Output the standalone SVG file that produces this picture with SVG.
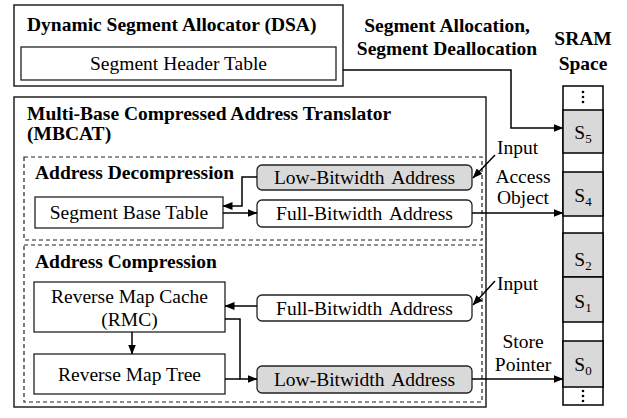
<svg xmlns="http://www.w3.org/2000/svg" width="627" height="418" viewBox="0 0 627 418">
<style>
text{font-family:"Liberation Serif","Times New Roman",serif;font-size:19.5px;fill:#000}
.b{font-weight:bold}
.m{text-anchor:middle}
.ws{word-spacing:3px}
.sub{font-size:13px}
.frame{fill:#fff;stroke:#222;stroke-width:1.5}
.box{fill:#fff;stroke:#222;stroke-width:1.3}
.dash{fill:none;stroke:#222;stroke-width:1.2;stroke-dasharray:4 3}
.gray{fill:#d9d9d9}
.wire{fill:none;stroke:#000;stroke-width:1.5}
.arr{marker-end:url(#ah)}
.cell{stroke:#000;stroke-width:1.5}
</style>
<defs>
<marker id="ah" markerWidth="10" markerHeight="8" refX="9.5" refY="4" orient="auto" markerUnits="userSpaceOnUse">
<path d="M0,0 L10,4 L0,8 z" fill="#000"/>
</marker>
</defs>
<rect width="627" height="418" fill="#fff"/>

<!-- Dynamic Segment Allocator -->
<g id="dsa">
<rect class="frame" x="14" y="5" width="329" height="81"/>
<text class="b" x="27" y="31">Dynamic Segment Allocator (DSA)</text>
</g>
<g id="segment-header-table">
<rect class="box" x="21" y="47" width="315" height="33"/>
<text class="m" x="178.5" y="70">Segment Header Table</text>
</g>

<!-- Multi-Base Compressed Address Translator -->
<g id="mbcat">
<rect class="frame" x="14" y="97" width="472" height="310"/>
<text class="b" x="27" y="120">Multi-Base Compressed Address Translator</text>
<text class="b" x="27" y="140">(MBCAT)</text>
</g>
<g id="address-decompression">
<rect class="dash" x="24" y="157" width="458" height="83"/>
<text class="b" x="35" y="179">Address Decompression</text>
</g>
<g id="address-compression">
<rect class="dash" x="24" y="245" width="458" height="157"/>
<text class="b" x="35" y="268">Address Compression</text>
</g>

<g id="segment-base-table">
<rect class="box" x="35" y="197" width="188" height="31"/>
<text class="m" x="129" y="219">Segment Base Table</text>
</g>
<g id="low-bitwidth-in">
<rect class="box gray" x="257" y="165" width="215" height="25" rx="5"/>
<text class="m ws" x="364.5" y="184">Low-Bitwidth Address</text>
</g>
<g id="full-bitwidth-out">
<rect class="box" x="257" y="200" width="215" height="27" rx="5"/>
<text class="m ws" x="364.5" y="220">Full-Bitwidth Address</text>
</g>

<g id="reverse-map-cache">
<rect class="box" x="34" y="282" width="191" height="50"/>
<text class="m" x="129.5" y="303">Reverse Map Cache</text>
<text class="m" x="129.5" y="326">(RMC)</text>
</g>
<g id="reverse-map-tree">
<rect class="box" x="34" y="354" width="191" height="40"/>
<text class="m" x="129.5" y="381">Reverse Map Tree</text>
</g>
<g id="full-bitwidth-in">
<rect class="box" x="257" y="295" width="215" height="26" rx="5"/>
<text class="m ws" x="364.5" y="315">Full-Bitwidth Address</text>
</g>
<g id="low-bitwidth-out">
<rect class="box gray" x="257" y="366" width="215" height="27" rx="5"/>
<text class="m ws" x="364.5" y="386">Low-Bitwidth Address</text>
</g>

<!-- SRAM space column -->
<g id="sram">
<text class="b m" x="583" y="45">SRAM</text>
<text class="b m" x="583" y="70">Space</text>
<rect class="cell" x="563" y="86" width="40" height="319" fill="#fff"/>
<rect class="cell gray" x="563" y="110" width="40" height="43"/>
<rect class="cell gray" x="563" y="172" width="40" height="44"/>
<rect class="cell gray" x="563" y="233" width="40" height="44"/>
<rect class="cell gray" x="563" y="277" width="40" height="45"/>
<rect class="cell gray" x="563" y="341" width="40" height="46"/>
<circle cx="583" cy="92" r="1.3"/><circle cx="583" cy="97" r="1.3"/><circle cx="583" cy="102" r="1.3"/>
<circle cx="583" cy="391" r="1.3"/><circle cx="583" cy="396" r="1.3"/><circle cx="583" cy="401" r="1.3"/>
<text class="m" x="583" y="139">S<tspan class="sub" dy="4">5</tspan></text>
<text class="m" x="583" y="202">S<tspan class="sub" dy="4">4</tspan></text>
<text class="m" x="583" y="266">S<tspan class="sub" dy="4">2</tspan></text>
<text class="m" x="583" y="308">S<tspan class="sub" dy="4">1</tspan></text>
<text class="m" x="583" y="371">S<tspan class="sub" dy="4">0</tspan></text>
</g>

<!-- labels next to connectors -->
<g id="labels">
<text class="b m" x="447" y="32">Segment Allocation,</text>
<text class="b m" x="447" y="55">Segment Deallocation</text>
<text x="497" y="154">Input</text>
<text class="m" x="523" y="183">Access</text>
<text class="m" x="523" y="204">Object</text>
<text x="497" y="290">Input</text>
<text class="m" x="523" y="348">Store</text>
<text class="m" x="523" y="371">Pointer</text>
</g>

<!-- connectors -->
<g id="connectors">
<path class="wire arr" d="M343,70 H511 V128 H563"/>
<path class="wire arr" d="M257,177 H242 V206 H223"/>
<path class="wire arr" d="M223,213 H257"/>
<path class="wire arr" d="M472,213 H563"/>
<path class="wire arr" d="M495,155 L473,178"/>
<path class="wire arr" d="M257,306 H225"/>
<path class="wire arr" d="M132,332 V354"/>
<path class="wire arr" d="M225,319 H240 V379 H257"/>
<path class="wire" d="M225,379 H240"/>
<path class="wire arr" d="M495,281 L473,305"/>
<path class="wire arr" d="M472,379 H563"/>
</g>
</svg>
